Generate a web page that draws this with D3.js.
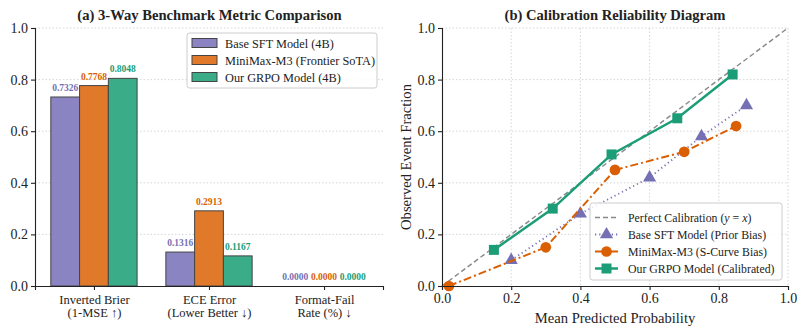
<!DOCTYPE html>
<html>
<head>
<meta charset="utf-8">
<script src="https://cdn.jsdelivr.net/npm/d3@7"></script>
<style>
  body { margin: 0; background: #fff; }
  svg text { font-family: "Liberation Serif", "DejaVu Serif", serif; fill: #222; }
  .axis path, .axis line { stroke: #222; stroke-width: 1.1; }
  .axis text { font-size: 14px; fill: #222; }
  .grid line { stroke: #ccc; stroke-dasharray: 1.5, 2; stroke-width: 0.8; }
</style>
</head>
<body>
<script>
'use strict'

// ---- panel (a) data
const categories = [['Inverted Brier', '(1-MSE \u2191)'], ['ECE Error', '(Lower Better \u2193)'], ['Format-Fail', 'Rate (%) \u2193']]
const models = ['Base SFT Model (4B)', 'MiniMax-M3 (Frontier SoTA)', 'Our GRPO Model (4B)']
const baseVals = [0.7326, 0.1316, 0.0000]
const minimaxVals = [0.7768, 0.2913, 0.0000]
const grpoVals = [0.8048, 0.1167, 0.0000]
const yTicks = [0, 0.2, 0.4, 0.6, 0.8, 1.0]

// ---- panel (b) data
const baseX = [0.2, 0.4, 0.6, 0.75, 0.88]
const baseY = [0.10, 0.28, 0.42, 0.58, 0.70]
const minimaxX = [0.02, 0.3, 0.5, 0.7, 0.85]
const minimaxY = [0.0, 0.15, 0.45, 0.52, 0.62]
const grpoX = [0.15, 0.32, 0.49, 0.68, 0.84]
const grpoY = [0.14, 0.30, 0.51, 0.65, 0.82]

const colors = ['#7570b3', '#d95f02', '#1b9e77']
const barFill = ['#8a85c2', '#e07a2a', '#3aac87']

const W = 806, H = 336
const svg = d3.select('body').append('svg').attr('width', W).attr('height', H)

// ================= panel (a)
const A = {left: 35, right: 383, top: 28, bottom: 286}
const xa = d3.scaleLinear().domain([-0.5125, 2.5125]).range([A.left, A.right])
const ya = d3.scaleLinear().domain([0, 1]).range([A.bottom, A.top])
const gA = svg.append('g')

gA.append('g').attr('class', 'grid')
  .selectAll('line').data(yTicks.slice(1)).enter().append('line')
    .attr('x1', A.left).attr('x2', A.right)
    .attr('y1', d => ya(d)).attr('y2', d => ya(d))

const seriesA = [baseVals, minimaxVals, grpoVals]
const bw = 0.25
seriesA.forEach((vals, s) => {
  const off = (s - 1) * bw
  gA.append('g').selectAll('rect').data(vals).enter().append('rect')
    .attr('x', (d, i) => xa(i + off - bw / 2))
    .attr('width', xa(bw) - xa(0))
    .attr('y', d => ya(d))
    .attr('height', d => ya(0) - ya(d))
    .attr('fill', barFill[s])
    .attr('stroke', '#444').attr('stroke-width', 1)
  gA.append('g').selectAll('text').data(vals).enter().append('text')
    .attr('x', (d, i) => xa(i + off))
    .attr('y', d => ya(d) - 6)
    .attr('text-anchor', 'middle')
    .style('font-size', '9.5px').style('font-weight', 'bold')
    .style('fill', colors[s])
    .text(d => d.toFixed(4))
})

gA.append('g').attr('class', 'axis')
  .attr('transform', `translate(${A.left},0)`)
  .call(d3.axisLeft(ya).tickValues(yTicks).tickFormat(d3.format('.1f')).tickSizeOuter(0).tickSize(4))

const xAxA = gA.append('g').attr('class', 'axis')
  .attr('transform', `translate(0,${A.bottom})`)
  .call(d3.axisBottom(xa).tickValues([0, 1, 2]).tickFormat('').tickSizeOuter(0).tickSize(4))
xAxA.selectAll('.tick').append('text')
  .attr('text-anchor', 'middle')
  .style('font-size', '12.5px')
  .selectAll('tspan').data(i => categories[i]).enter().append('tspan')
    .attr('x', 0).attr('y', (d, j) => 18 + j * 13)
    .text(d => d)

gA.append('text')
  .attr('x', (A.left + A.right) / 2 + 0.5).attr('y', 20)
  .attr('text-anchor', 'middle')
  .style('font-size', '14.6px').style('font-weight', 'bold')
  .text('(a) 3-Way Benchmark Metric Comparison')

// legend (a)
const legA = gA.append('g').attr('transform', 'translate(187,33)')
legA.append('rect').attr('width', 190).attr('height', 55).attr('rx', 2.5)
  .attr('fill', '#fff').attr('fill-opacity', 0.85).attr('stroke', '#ccc')
models.forEach((m, i) => {
  legA.append('rect').attr('x', 5).attr('y', 5.5 + i * 17).attr('width', 25).attr('height', 9)
    .attr('fill', barFill[i]).attr('stroke', '#444').attr('stroke-width', 1)
  legA.append('text').attr('x', 38).attr('y', 14.5 + i * 17)
    .style('font-size', '12.3px').text(m)
})

// ================= panel (b)
const B = {left: 442, right: 788, top: 28, bottom: 286}
const xb = d3.scaleLinear().domain([0, 1]).range([B.left, B.right])
const yb = d3.scaleLinear().domain([0, 1]).range([B.bottom, B.top])
const gB = svg.append('g')
const bTicks = [0, 0.2, 0.4, 0.6, 0.8, 1.0]

gB.append('g').attr('class', 'grid')
  .selectAll('line').data(bTicks.slice(1)).enter().append('line')
    .attr('x1', B.left).attr('x2', B.right)
    .attr('y1', d => yb(d)).attr('y2', d => yb(d))
gB.append('g').attr('class', 'grid')
  .selectAll('line').data(bTicks.slice(1)).enter().append('line')
    .attr('y1', B.top).attr('y2', B.bottom)
    .attr('x1', d => xb(d)).attr('x2', d => xb(d))

gB.append('line')
  .attr('x1', xb(0)).attr('y1', yb(0)).attr('x2', xb(1)).attr('y2', yb(1))
  .attr('stroke', '#888').attr('stroke-width', 1.4).attr('stroke-dasharray', '5,3')

const line = d3.line().x(d => xb(d[0])).y(d => yb(d[1]))
const seriesB = [
  {name: 'Base SFT Model (Prior Bias)', pts: d3.zip(baseX, baseY), dash: '1.2,3', w: 1.8, sym: d3.symbolTriangle, size: 75},
  {name: 'MiniMax-M3 (S-Curve Bias)', pts: d3.zip(minimaxX, minimaxY), dash: '8,3,2,3', w: 2, sym: d3.symbolCircle, size: 90},
  {name: 'Our GRPO Model (Calibrated)', pts: d3.zip(grpoX, grpoY), dash: null, w: 2.5, sym: d3.symbolSquare, size: 100}
]

seriesB.forEach((s, i) => {
  gB.append('path').datum(s.pts).attr('d', line)
    .attr('fill', 'none').attr('stroke', colors[i]).attr('stroke-width', s.w)
    .attr('stroke-dasharray', s.dash)
  gB.append('g').selectAll('path').data(s.pts).enter().append('path')
    .attr('d', d3.symbol().type(s.sym).size(s.size))
    .attr('transform', d => `translate(${xb(d[0])},${yb(d[1])})`)
    .attr('fill', colors[i])
})

gB.append('g').attr('class', 'axis')
  .attr('transform', `translate(${B.left},0)`)
  .call(d3.axisLeft(yb).tickValues(bTicks).tickFormat(d3.format('.1f')).tickSizeOuter(0).tickSize(4))
gB.append('g').attr('class', 'axis')
  .attr('transform', `translate(0,${B.bottom})`)
  .call(d3.axisBottom(xb).tickValues(bTicks).tickFormat(d3.format('.1f')).tickSizeOuter(0).tickSize(4))

gB.append('text')
  .attr('x', (B.left + B.right) / 2).attr('y', 20)
  .attr('text-anchor', 'middle')
  .style('font-size', '14.6px').style('font-weight', 'bold')
  .text('(b) Calibration Reliability Diagram')
gB.append('text')
  .attr('x', (B.left + B.right) / 2).attr('y', 323)
  .attr('text-anchor', 'middle').style('font-size', '14.6px')
  .text('Mean Predicted Probability')
gB.append('text')
  .attr('transform', `translate(411,${(B.top + B.bottom) / 2}) rotate(-90)`)
  .attr('text-anchor', 'middle').style('font-size', '14.6px')
  .text('Observed Event Fraction')

// legend (b)
const legB = gB.append('g').attr('transform', 'translate(590,203)')
legB.append('rect').attr('width', 192).attr('height', 77).attr('rx', 2.5)
  .attr('fill', '#fff').attr('fill-opacity', 0.85).attr('stroke', '#ccc')
const rowY = i => 14.5 + i * 17
legB.append('line').attr('x1', 5).attr('x2', 28).attr('y1', rowY(0)).attr('y2', rowY(0))
  .attr('stroke', '#888').attr('stroke-width', 1.4).attr('stroke-dasharray', '5,3')
const t0 = legB.append('text').attr('x', 38).attr('y', rowY(0) + 4).style('font-size', '11.8px')
t0.append('tspan').text('Perfect Calibration (')
t0.append('tspan').style('font-style', 'italic').text('y')
t0.append('tspan').text(' = ')
t0.append('tspan').style('font-style', 'italic').text('x')
t0.append('tspan').text(')')
seriesB.forEach((s, i) => {
  const y = rowY(i + 1)
  legB.append('line').attr('x1', 5).attr('x2', 28).attr('y1', y).attr('y2', y)
    .attr('stroke', colors[i]).attr('stroke-width', s.w).attr('stroke-dasharray', s.dash)
  legB.append('path').attr('d', d3.symbol().type(s.sym).size(s.size))
    .attr('transform', `translate(16.5,${y})`).attr('fill', colors[i])
  legB.append('text').attr('x', 38).attr('y', y + 4).style('font-size', '11.8px').text(s.name)
})
</script>
</body>
</html>
